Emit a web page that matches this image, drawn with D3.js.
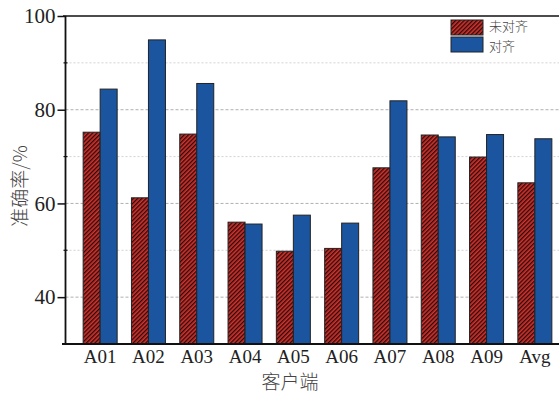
<!DOCTYPE html>
<html>
<head>
<meta charset="utf-8">
<script src="https://cdn.jsdelivr.net/npm/d3@7"></script>
<style>
  html, body { margin: 0; padding: 0; background: #fff; }
  svg { display: block; }
</style>
</head>
<body>
<svg id="chart" width="559" height="394"></svg>
<script>
// Per-client accuracy, unaligned vs aligned
const categories = ["A01", "A02", "A03", "A04", "A05", "A06", "A07", "A08", "A09", "Avg"];
const unaligned = [75.2, 61.2, 74.8, 56.0, 49.8, 50.4, 67.6, 74.6, 69.9, 64.4];
const aligned   = [84.4, 94.9, 85.6, 55.6, 57.5, 55.8, 81.9, 74.2, 74.7, 73.8];
const seriesNames = ["未对齐", "对齐"];
const majorTicks = [40, 60, 80, 100];
const minorTicks = [50, 70, 90];

const svg = d3.select("#chart");
const plotLeft = 65.5, plotTop = 16, plotBottom = 344;
const serif = "'Liberation Serif', 'DejaVu Serif', serif";
const cjk = "'Noto Sans CJK SC', sans-serif";

const y = d3.scaleLinear().domain([30, 100]).range([plotBottom, plotTop]);
const x = d3.scaleBand().domain(categories).range([76, 559]).paddingInner(0).paddingOuter(0);
const barW = 17;

// hatch pattern for the unaligned series
const defs = svg.append("defs");
const pat = defs.append("pattern")
  .attr("id", "hatch").attr("patternUnits", "userSpaceOnUse")
  .attr("width", 3).attr("height", 3)
  .attr("patternTransform", "rotate(45)");
pat.append("rect").attr("width", 3).attr("height", 3).attr("fill", "#dc302a");
pat.append("line").attr("x1", 0.7).attr("y1", 0).attr("x2", 0.7).attr("y2", 3)
  .attr("stroke", "#1a0c0c").attr("stroke-width", 1.3);

const red = "url(#hatch)", blue = "#1b55a0";

// grid lines
svg.append("g").selectAll("line").data(majorTicks.filter(d => d < 100)).join("line")
  .attr("x1", plotLeft).attr("x2", 559).attr("y1", d => y(d)).attr("y2", d => y(d))
  .attr("stroke", "#9a9a9a").attr("stroke-width", 0.8).attr("stroke-dasharray", "3,2");
svg.append("g").selectAll("line").data(minorTicks).join("line")
  .attr("x1", plotLeft).attr("x2", 559).attr("y1", d => y(d)).attr("y2", d => y(d))
  .attr("stroke", "#c8c8c8").attr("stroke-width", 0.8).attr("stroke-dasharray", "2,2");

// bars
const g = svg.append("g");
categories.forEach((c, i) => {
  const cx = x(c) + x.bandwidth() / 2;
  g.append("rect").attr("x", cx - barW).attr("width", barW)
    .attr("y", y(unaligned[i])).attr("height", y(30) - y(unaligned[i]))
    .attr("fill", red).attr("stroke", "#222").attr("stroke-width", 1);
  g.append("rect").attr("x", cx).attr("width", barW)
    .attr("y", y(aligned[i])).attr("height", y(30) - y(aligned[i]))
    .attr("fill", blue).attr("stroke", "#222").attr("stroke-width", 1);
});

// frame: top line, left axis, bottom axis
svg.append("line").attr("x1", 63).attr("x2", 559).attr("y1", plotTop).attr("y2", plotTop)
  .attr("stroke", "#111").attr("stroke-width", 1.5);
svg.append("line").attr("x1", plotLeft).attr("x2", plotLeft).attr("y1", plotTop).attr("y2", plotBottom)
  .attr("stroke", "#111").attr("stroke-width", 1.8);
svg.append("line").attr("x1", 62).attr("x2", 559).attr("y1", plotBottom).attr("y2", plotBottom)
  .attr("stroke", "#111").attr("stroke-width", 2);

// y axis ticks and labels
const yAxis = svg.append("g").attr("transform", `translate(${plotLeft},0)`)
  .call(d3.axisLeft(y).tickValues(majorTicks).tickSize(8).tickPadding(2));
yAxis.select(".domain").remove();
yAxis.selectAll(".tick line").attr("stroke", "#111").attr("stroke-width", 1.5);
yAxis.selectAll(".tick text").attr("font-family", serif).attr("font-size", 21).attr("fill", "#222");
svg.append("g").selectAll("line").data(minorTicks).join("line")
  .attr("x1", plotLeft - 2).attr("x2", plotLeft + 2).attr("y1", d => y(d)).attr("y2", d => y(d))
  .attr("stroke", "#111").attr("stroke-width", 1.2);

// x axis labels
const xAxis = svg.append("g").attr("transform", `translate(0,${plotBottom})`)
  .call(d3.axisBottom(x).tickSize(0).tickPadding(6));
xAxis.select(".domain").remove();
xAxis.selectAll(".tick text").attr("font-family", serif).attr("font-size", 19).attr("fill", "#222");

// axis titles
svg.append("text").attr("x", 290).attr("y", 389).attr("text-anchor", "middle")
  .attr("font-family", cjk).attr("font-weight", 300).attr("font-size", 19).attr("fill", "#444").text("客户端");
svg.append("text").attr("transform", "translate(27,186) rotate(-90)").attr("text-anchor", "middle")
  .attr("font-family", cjk).attr("font-weight", 300).attr("font-size", 19).attr("fill", "#444").text("准确率/%");

// legend
const legend = svg.append("g").attr("transform", "translate(451,20)");
[red, blue].forEach((f, i) => {
  legend.append("rect").attr("x", 0).attr("y", i * 17).attr("width", 32).attr("height", 15)
    .attr("fill", f).attr("stroke", "#222").attr("stroke-width", 1);
  legend.append("text").attr("x", 38).attr("y", 11 + i * 19.5)
    .attr("font-family", cjk).attr("font-weight", 300).attr("font-size", 13).attr("fill", "#444").text(seriesNames[i]);
});
</script>
</body>
</html>
